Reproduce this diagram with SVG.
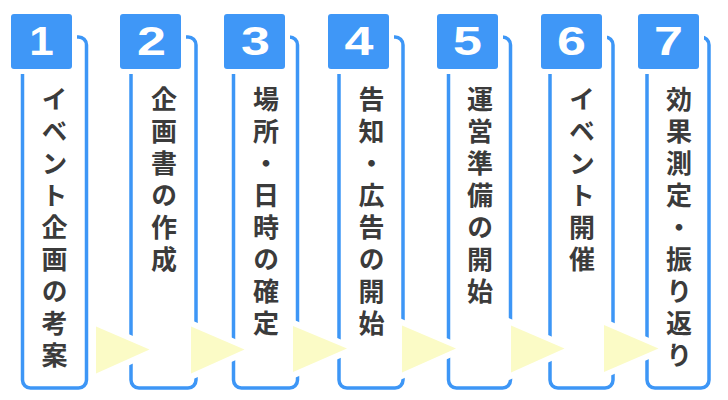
<svg xmlns="http://www.w3.org/2000/svg" width="728" height="400" viewBox="0 0 728 400">
<style>
.frame{fill:none;stroke:#3d96f6;stroke-width:3.5}
.badge{fill:#3f97f7;stroke:#ffffff;stroke-width:10;paint-order:stroke}
.num{font-family:"Liberation Sans",Arial,sans-serif;font-weight:700;font-size:40px;fill:#ffffff;text-anchor:middle}
.lbl{font-family:"Noto Sans CJK JP","Noto Sans CJK SC",sans-serif;font-weight:700;font-size:26px;fill:#3b3b3b;writing-mode:vertical-rl;letter-spacing:6px}
.arrow{fill:#fbfbc6;stroke:#ffffff;stroke-width:12;paint-order:stroke;stroke-linejoin:miter}
</style>
<rect width="728" height="400" fill="#ffffff"/>
<g id="node1">
<rect class="frame" x="22.5" y="37" width="64" height="351" rx="8"/>
<rect class="badge" x="11" y="14" width="61" height="55" rx="3"/>
<text class="num" transform="translate(41.5,55) scale(1.1,1)">1</text>
<text class="lbl" x="54.5" y="86">イベント企画の考案</text>
</g>
<g id="node2">
<rect class="frame" x="131" y="37" width="65" height="351" rx="8"/>
<rect class="badge" x="120" y="14" width="61" height="55" rx="3"/>
<text class="num" transform="translate(151.5,55) scale(1.3,1)">2</text>
<text class="lbl" x="164" y="86">企画書の作成</text>
</g>
<g id="node3">
<rect class="frame" x="233.5" y="37" width="64" height="351" rx="8"/>
<rect class="badge" x="224" y="14" width="61" height="55" rx="3"/>
<text class="num" transform="translate(255.5,55) scale(1.3,1)">3</text>
<text class="lbl" x="266" y="86">場所・日時の確定</text>
</g>
<g id="node4">
<rect class="frame" x="339" y="37" width="64" height="351" rx="8"/>
<rect class="badge" x="328" y="14" width="61" height="55" rx="3"/>
<text class="num" transform="translate(359,55) scale(1.3,1)">4</text>
<text class="lbl" x="371.5" y="86">告知・広告の開始</text>
</g>
<g id="node5">
<rect class="frame" x="448.5" y="37" width="62" height="351" rx="8"/>
<rect class="badge" x="437" y="14" width="61" height="55" rx="3"/>
<text class="num" transform="translate(467.5,55) scale(1.3,1)">5</text>
<text class="lbl" x="480" y="86">運営準備の開始</text>
</g>
<g id="node6">
<rect class="frame" x="550" y="37" width="63" height="351" rx="8"/>
<rect class="badge" x="541" y="14" width="61" height="55" rx="3"/>
<text class="num" transform="translate(571.5,55) scale(1.3,1)">6</text>
<text class="lbl" x="582" y="86">イベント開催</text>
</g>
<g id="node7">
<rect class="frame" x="647" y="37" width="62" height="351" rx="8"/>
<rect class="badge" x="638" y="14" width="61" height="55" rx="3"/>
<text class="num" transform="translate(668.5,55) scale(1.3,1)">7</text>
<text class="lbl" x="679" y="86">効果測定・振り返り</text>
</g>
<g id="connectors">
<polygon class="arrow" points="96,326.5 96,373.5 149.5,349.5"/>
<polygon class="arrow" points="191,326.5 191,373.5 244.5,349.5"/>
<polygon class="arrow" points="293,326 293,372 347,348.5"/>
<polygon class="arrow" points="402,325.5 402,372.5 456,348.5"/>
<polygon class="arrow" points="511,325.5 511,372.5 564.5,348.5"/>
<polygon class="arrow" points="604,325 604,372 658.5,348.5"/>
</g>
</svg>
